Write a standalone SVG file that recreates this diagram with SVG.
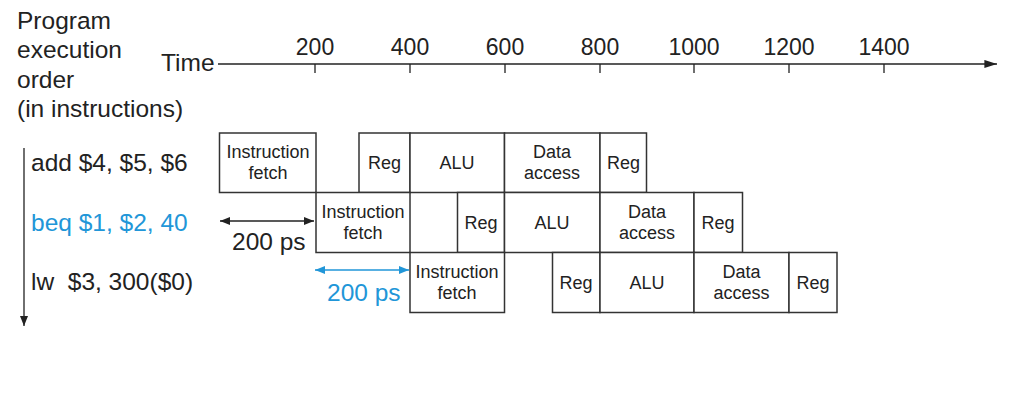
<svg xmlns="http://www.w3.org/2000/svg" width="1033" height="403" viewBox="0 0 1033 403">
<defs>
<style>
text{font-family:"Liberation Sans",Arial,sans-serif;fill:#222}
.big{font-size:24.5px}
.tick{font-size:23px;text-anchor:middle}
.box rect{fill:#fff;stroke:#333;stroke-width:1.5}
.box text{font-size:18px;text-anchor:middle}
.blue{fill:#2196d8}
.ln{stroke:#222;stroke-width:1.3;fill:none}
.bln{stroke:#2196d8;stroke-width:1.3;fill:none}
</style>
<marker id="ah" viewBox="0 0 10 10" refX="10" refY="5" markerWidth="10" markerHeight="10" markerUnits="userSpaceOnUse" orient="auto-start-reverse"><path d="M0,1 L10,5 L0,9 z" fill="#222"/></marker>
<marker id="ahL" viewBox="0 0 14 10" refX="14" refY="5" markerWidth="14" markerHeight="9" markerUnits="userSpaceOnUse" orient="auto-start-reverse"><path d="M0,0.5 L14,5 L0,9.5 z" fill="#222"/></marker>
<marker id="ahB" viewBox="0 0 10 10" refX="10" refY="5" markerWidth="10" markerHeight="10" markerUnits="userSpaceOnUse" orient="auto-start-reverse"><path d="M0,1 L10,5 L0,9 z" fill="#2196d8"/></marker>
</defs>
<rect width="1033" height="403" fill="#fff"/>

<g id="labels">
<text class="big" x="17" y="29">Program</text>
<text class="big" x="17" y="58">execution</text>
<text class="big" x="17" y="88">order</text>
<text class="big" x="17" y="117">(in instructions)</text>
<text class="big" x="161" y="71">Time</text>
<text class="tick" x="315" y="55">200</text>
<text class="tick" x="410" y="55">400</text>
<text class="tick" x="505" y="55">600</text>
<text class="tick" x="600" y="55">800</text>
<text class="tick" x="694" y="55">1000</text>
<text class="tick" x="789" y="55">1200</text>
<text class="tick" x="884" y="55">1400</text>
<text class="big" x="31" y="171">add $4, $5, $6</text>
<text class="big blue" x="31" y="231">beq $1, $2, 40</text>
<text class="big" x="31" y="290">lw&#160; $3, 300($0)</text>
<text class="big" x="232" y="250">200 ps</text>
<text class="big blue" x="327" y="301">200 ps</text>
</g>

<g id="connectors">
<line class="ln" x1="218" y1="64" x2="997" y2="64" marker-end="url(#ahL)"/>
<path class="ln" d="M315,64V73M410,64V73M505,64V73M600,64V73M694,64V73M789,64V73M884,64V73"/>
<line class="ln" x1="24" y1="148" x2="24" y2="326" marker-end="url(#ah)"/>
<line class="ln" x1="220" y1="221" x2="314" y2="221" marker-start="url(#ah)" marker-end="url(#ah)"/>
<line class="bln" x1="315" y1="270" x2="409" y2="270" marker-start="url(#ahB)" marker-end="url(#ahB)"/>
</g>

<g id="add-if" class="box"><rect x="219.5" y="133" width="96.5" height="59.5"/><text x="268" y="157.5">Instruction</text><text x="268" y="179">fetch</text></g>
<g id="add-reg1" class="box"><rect x="359" y="133" width="51" height="59.5"/><text x="384.5" y="169">Reg</text></g>
<g id="add-alu" class="box"><rect x="410" y="133" width="94.5" height="59.5"/><text x="457" y="169">ALU</text></g>
<g id="add-data" class="box"><rect x="504.5" y="133" width="95.5" height="59.5"/><text x="552" y="157.5">Data</text><text x="552" y="179">access</text></g>
<g id="add-reg2" class="box"><rect x="600" y="133" width="46.5" height="59.5"/><text x="623.5" y="169">Reg</text></g>

<g id="beq-if" class="box"><rect x="316" y="192.5" width="94" height="60"/><text x="363" y="217.5">Instruction</text><text x="363" y="239">fetch</text></g>
<g id="beq-reg1" class="box"><rect x="457.5" y="192.5" width="47" height="60"/><text x="481" y="229">Reg</text></g>
<g id="beq-alu" class="box"><rect x="504.5" y="192.5" width="95.5" height="60"/><text x="552" y="229">ALU</text></g>
<g id="beq-data" class="box"><rect x="600" y="192.5" width="94" height="60"/><text x="647" y="217.5">Data</text><text x="647" y="239">access</text></g>
<g id="beq-reg2" class="box"><rect x="694" y="192.5" width="48.5" height="60"/><text x="718" y="229">Reg</text></g>

<g id="lw-if" class="box"><rect x="410" y="252.5" width="94.5" height="60"/><text x="457" y="277.5">Instruction</text><text x="457" y="299">fetch</text></g>
<g id="lw-reg1" class="box"><rect x="552.5" y="252.5" width="47.5" height="60"/><text x="576" y="289">Reg</text></g>
<g id="lw-alu" class="box"><rect x="600" y="252.5" width="94" height="60"/><text x="647" y="289">ALU</text></g>
<g id="lw-data" class="box"><rect x="694" y="252.5" width="95" height="60"/><text x="741.5" y="277.5">Data</text><text x="741.5" y="299">access</text></g>
<g id="lw-reg2" class="box"><rect x="789" y="252.5" width="48" height="60"/><text x="813" y="289">Reg</text></g>
</svg>
